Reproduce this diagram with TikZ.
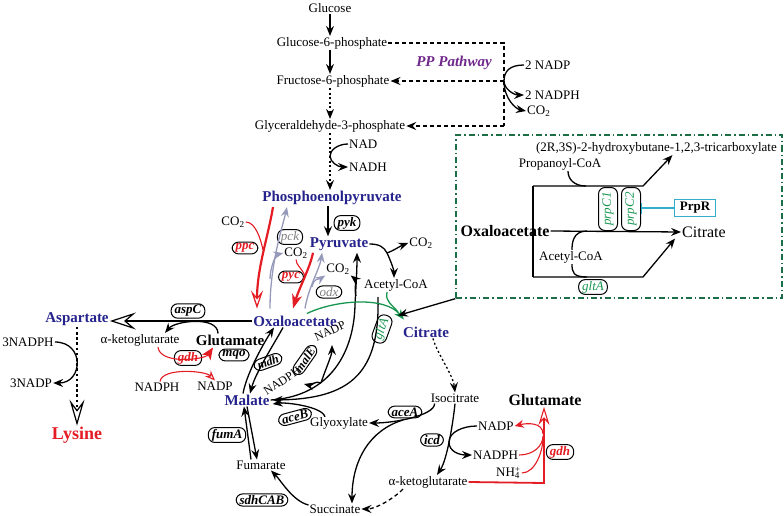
\documentclass[tikz,border=0pt]{standalone}
\usepackage{fontspec}
\setmainfont{Liberation Serif}
\usepackage{tikz}
\usetikzlibrary{arrows.meta,calc}
\usetikzlibrary{positioning,shapes}
\definecolor{metblue}{RGB}{38,36,140}
\definecolor{genred}{RGB}{228,28,36}
\definecolor{revgray}{RGB}{150,154,186}
\definecolor{prpgreen}{RGB}{24,150,80}
\definecolor{boxgreen}{RGB}{28,110,70}
\definecolor{ppviolet}{RGB}{112,40,140}
\definecolor{regcyan}{RGB}{50,175,205}
\tikzstyle{met}=[inner sep=1pt, font=\fontsize{13}{15}\selectfont]
\tikzstyle{keymet}=[inner sep=1pt, text=metblue, font=\fontsize{15}{17}\selectfont\bfseries]
\tikzstyle{enz}=[draw, line width=1pt, rounded corners=6.5pt, inner xsep=3.5pt,
		inner ysep=1.5pt, font=\fontsize{13}{15}\selectfont\bfseries\itshape]
\tikzstyle{enzlight}=[enz, font=\fontsize{13}{15}\selectfont\itshape]
\tikzstyle{plain}=[line width=1.3pt]
\tikzstyle{flux}=[line width=1.3pt, -{Stealth[length=10pt,width=8pt,inset=3.5pt]}]
\tikzstyle{dashline}=[line width=1.3pt, dash pattern=on 4pt off 3pt]
\tikzstyle{dotline}=[line width=1.3pt, dash pattern=on 2pt off 2.5pt]
\tikzstyle{redflux}=[genred, line width=2.2pt]
\tikzstyle{redthin}=[genred, line width=1.1pt]
\tikzstyle{grayflux}=[revgray, line width=1.3pt, -{Stealth[length=10pt,width=8pt,inset=3.5pt]}]
\tikzstyle{greenflux}=[prpgreen, line width=1.3pt]

\begin{document}
\begin{tikzpicture}[x=1pt,y=-1pt]
    \useasboundingbox (0,0) rectangle (784,516);

    % glycolysis
    \node (glc) at (330,8) [met] {Glucose};
    \node (g6p) at (332,43) [met] {Glucose-6-phosphate};
    \node (f6p) at (333,81) [met] {Fructose-6-phosphate};
    \node (g3p) at (330,126) [met] {Glyceraldehyde-3-phosphate};
    \node (nad) at (348,144) [met, anchor=west] {NAD};
    \node (nadh) at (348,167) [met, anchor=west] {NADH};
    \node (pep) at (332,198) [keymet] {Phosphoenolpyruvate};
    \node (pyk) at (347,223) [enz] {pyk};
    \node (pyr) at (339,244) [keymet] {Pyruvate};
    \node (co2pdh) at (421,243) [met] {CO\textsubscript{2}};
    \node (accoa) at (396,285) [met] {Acetyl-CoA};

    \draw[flux] (glc) -- (glc |- g6p.north);
    \draw[flux] (g6p.south -| glc) -- (glc |- f6p.north);
    \draw[dotline, flux] (f6p.south -| glc) -- (glc |- g3p.north);
    \coordinate (nadj) at (330,156);
    \draw[dotline] (g3p.south -| glc) -- (nadj);
    \draw[dotline, flux] (nadj) -- (glc |- pep.north);
    \draw[plain] (nad.west) .. controls +(-10,0) and +(0,-6) .. (nadj);
    \draw[flux] (nadj) .. controls +(0,6) and +(-10,0) .. (nadh.west);
    \draw[flux] ($(pep.south)+(-4,0)$) -- ($(pyr.north)+(-11,0)$);

    % PP pathway
    \node (pp) at (454,63) [font=\fontsize{15}{17}\selectfont\bfseries\itshape,
            text=ppviolet] {PP Pathway};
    \coordinate (ppt) at (504,43);
    \coordinate (ppm) at (504,81);
    \coordinate (ppb) at (504,126);
    \draw[dashline] (g6p.east) -- (ppt) -- (ppb);
    \draw[dashline, flux] (ppm) -- (f6p.east);
    \draw[dashline, flux] (ppb) -- (g3p.east);
    \node (nadp2) at (524,65) [met, anchor=west] {2 NADP};
    \node (nadph2) at (524,95) [met, anchor=west] {2 NADPH};
    \node (co2pp) at (526,111) [met, anchor=west] {CO\textsubscript{2}};
    \draw[plain] (nadp2.west) .. controls +(-14,0) and +(0,-10) .. (ppm);
    \draw[flux] (ppm) .. controls +(0,8) and +(-10,0) .. (nadph2.west);
    \draw[flux] (ppm) .. controls +(0,18) and +(-10,-2) .. (co2pp.west);

    \coordinate (pdhj) at (387,253);
    \draw[plain] (pyr.east) .. controls +(10,0) and +(-3,-6) .. (pdhj);
    \draw[flux] (pdhj) .. controls +(6,-2) and +(-8,3) .. (co2pdh.west);
    \draw[flux] (pdhj) .. controls +(3,6) and +(0,-8) .. ($(accoa.north)+(-2,0)$);

    % anaplerotic node
    \node (oaa) at (295,321) [keymet] {Oxaloacetate};
    \node (mal) at (247,400) [keymet] {Malate};
    \node (asp) at (77,319) [keymet] {Aspartate};
    \node (lys) at (77,435) [keymet, text=genred,
            font=\fontsize{18}{20}\selectfont\bfseries] {Lysine};
    \node (cit) at (426,332) [keymet] {Citrate};
    \node (co2ppc) at (233,222) [met] {CO\textsubscript{2}};
    \node (co2pyc) at (296,253) [met] {CO\textsubscript{2}};
    \node (co2odx) at (338,269) [met] {CO\textsubscript{2}};
    \node (ppc) at (245,248) [enz, text=genred] {ppc};
    \node (pck) at (290,237) [enzlight, text=gray] {pck};
    \node (pyc) at (291,277) [enz, text=genred] {pyc};
    \node (odx) at (329,292) [enzlight, text=gray] {odx};

    \draw[redflux, -{Stealth[open, length=18pt, width=12pt, inset=7pt, line width=1.2pt]}]
        ($(pep.south)+(-59,1)$) .. controls +(-5,30) and +(0,-40) .. ($(oaa.north)+(-38,-6)$);
    \draw[redthin] (co2ppc.east) .. controls +(10,0) and +(-2,-10) .. (263,250);
    \draw[grayflux] ($(oaa.north)+(-25,-6)$) .. controls +(0,-45) and +(-4,18) .. ($(pep.south)+(-45,1)$);
    \draw[grayflux] (270,279) .. controls +(0,-10) and +(-8,2) .. (co2pyc.west);
    \draw[redflux, -{Stealth[length=14pt, width=10pt, inset=4pt]}]
        ($(pyr.south)+(-26,1)$) .. controls +(-3,15) and +(6,-20) .. ($(oaa.north)+(-2,-6)$);
    \draw[redthin] (co2pyc.south) .. controls +(0,6) and +(-3,-8) .. (305,276);
    \draw[grayflux] ($(oaa.north)+(10,-6)$) .. controls +(3,-20) and +(-2,15) .. ($(pyr.south)+(-17,1)$);
    \draw[grayflux] (312,287) .. controls +(2,-10) and +(-6,4) .. (co2odx.south west);

    % malate
    \draw[flux] (mal.east) .. controls (332,396) and (354,350) .. (355,305)
        .. controls (356,285) and (357,270) .. ($(pyr.south)+(18,1)$);
    \draw[flux] (356,296) .. controls +(-2,-8) and +(6,5) .. (co2odx.south east);
    \coordinate (tcaj) at (378,297);
    \draw[flux] (tcaj) .. controls (380,372) and (352,399) .. ($(mal.east)+(2,0)$);
    \draw[flux] ($(mal.north)+(-4,0)$) .. controls +(4,-22) and +(-8,12) .. ($(oaa.south)+(-21,0)$);
    \draw[flux] ($(oaa.south)+(-12,0)$) .. controls +(-8,15) and +(6,-22) .. ($(mal.north)+(3,0)$);
    \node (mqo) at (234,355) [enz] {mqo};
    \node (mdh) at (268,362) [enz, rotate=20, font=\fontsize{12}{14}\selectfont\bfseries\itshape] {mdh};
    \node (malE) at (305,360) [enz, rotate=55, font=\fontsize{12}{14}\selectfont\bfseries\itshape] {malE};
    \node (nadph3) at (282,381) [met, rotate=33, font=\fontsize{12}{14}\selectfont] {NADPH};
    \node (nadp3) at (330,331) [met, rotate=25, font=\fontsize{12}{14}\selectfont] {NADP};
    \coordinate (malej) at (321,383);
    \draw[flux] (malej) .. controls +(3,-10) and +(0,10) .. (332,345);
    \draw[flux] (malej) .. controls +(-6,-3) and +(8,2) .. (304,384);

    % aspartate and lysine
    \node (aspC) at (188,311) [enz] {aspC};
    \draw[line width=2.4pt, -{Stealth[open, length=26pt, width=17pt, inset=10pt, line width=1.2pt]}]
        (oaa.west) -- (oaa.west -| asp.east);
    \node (akg1) at (140,340) [met] {α-ketoglutarate};
    \node (glu1) at (230,340) [keymet, text=black] {Glutamate};
    \draw[flux] ($(glu1.north)+(-12,0)$) .. controls +(0,-18) and +(10,-12) .. ($(akg1.north)+(25,0)$);
    \node (gdh1) at (188,358) [enz, text=genred] {gdh};
    \node (nadph1) at (157,387) [met] {NADPH};
    \node (nadp1) at (215,386) [met] {NADP};
    \draw[redthin, -{Stealth[length=12pt, width=10pt, inset=3pt]}]
        ($(akg1.south)+(18,0)$) .. controls +(2,18) and +(-8,12) .. ($(glu1.south)+(-17,1)$);
    \draw[redthin, -{Stealth[open, length=10pt, width=8pt, inset=3pt]}]
        ($(nadph1.north)+(3,0)$) .. controls +(2,-14) and +(-10,-10) .. (nadp1.north);
    \node (nadph4) at (28,342) [met] {3NADPH};
    \node (nadp4) at (31,383) [met] {3NADP};
    \draw[flux] (nadph4.east) .. controls +(30,0) and +(30,0) .. (nadp4.east);
    \draw[line width=2.2pt, dash pattern=on 2.6pt off 2.6pt,
        -{Stealth[open, length=26pt, width=15pt, inset=10pt, line width=1.2pt]}] (asp.south) -- (lys.north);

    % citrate synthase
    \node (gltA) at (382,329) [enzlight, text=prpgreen, rotate=70] {gltA};
    \draw[greenflux, -{Stealth[length=10pt, width=8pt, inset=3pt]}]
        ($(oaa.north east)+(-31,-1)$) .. controls (335,300) and (385,296) .. ($(cit.north west)+(2,-6)$);
    \draw[greenflux] ($(accoa.south)+(-9,0)$) .. controls +(-2,10) and +(-6,-8) .. (398,312);

    \node (prpbox) at (619,216.5) [draw=boxgreen, line width=1.3pt,
            dash pattern=on 6pt off 3pt on 1.5pt off 3pt,
            minimum width=326pt, minimum height=163pt, inner sep=0pt] {};
    \draw[flux] (prpbox.south west) -- ($(cit.north west)+(-4,-10)$);

    % TCA cycle and glyoxylate shunt
    \node (icit) at (455,398) [met] {Isocitrate};
    \draw[dotline, flux] ($(cit.south)+(7,0)$) .. controls +(4,15) and +(-2,-18) .. (icit.north);
    \node (glx) at (339,423) [met] {Glyoxylate};
    \node (aceA) at (405,412) [enz] {aceA};
    \node (aceB) at (295,417) [enz, rotate=15] {aceB};
    \node (suc) at (335,509) [met] {Succinate};
    \node (fum) at (261,465) [met] {Fumarate};
    \node (sdh) at (262,500) [enz] {sdhCAB};
    \node (fumA) at (227,435) [enz] {fumA};
    \draw[flux] ($(icit.south west)+(5,0)$) .. controls +(0,12) and +(25,0) .. (glx.east);
    \coordinate (aceAj) at (403,420);
    \draw[flux] (aceAj) .. controls (370,430) and (352,460) .. ($(suc.north)+(17,0)$);
    \draw[flux] ($(glx.north west)+(16,1)$) .. controls +(-2,-10) and +(14,-2) .. ($(mal.east)+(2,4)$);

    \node (icd) at (432,440) [enz] {icd};
    \node (akg2) at (428,482) [met] {α-ketoglutarate};
    \draw[flux] (icit.south) .. controls +(-2,20) and +(10,-15) .. ($(akg2.north)+(9,0)$);
    \coordinate (icdj) at (449,442);
    \node (nadp5) at (477,426) [met, anchor=west] {NADP};
    \node (nadph5) at (472,455) [met, anchor=west] {NADPH};
    \node (nh4) at (495,473) [met, anchor=west] {NH\rlap{\textsubscript{4}}\textsuperscript{+}};
    \draw[plain] (nadp5.west) .. controls +(-14,0) and +(0,-10) .. (icdj);
    \draw[flux] (icdj) .. controls +(0,10) and +(-12,0) .. (nadph5.west);

    \draw[dashline, flux] ($(akg2.south)+(-25,0)$) .. controls +(-10,10) and +(14,0) .. (suc.east);
    \draw[flux] ($(suc.west)+(0,-4)$) .. controls +(-16,-4) and +(10,10) .. ($(fum.south)+(10,0)$);
    \draw[flux] ($(fum.north)+(-10,0)$) -- ($(mal.south)+(-3,0)$);
    \draw[flux] (mal.south) -- ($(fum.north)+(-4,0)$);

    % glutamate dehydrogenase
    \node (glu2) at (545,400) [keymet, text=black,
            font=\fontsize{16}{18}\selectfont\bfseries] {Glutamate};
    \node (gdh2) at (560,452) [enz, text=genred] {gdh};
    \coordinate (gdhc) at (544,483);
    \draw[genred, line width=1.8pt, -{Stealth[open, length=18pt, width=11pt, inset=6pt, line width=1.1pt]}]
        (akg2.east) -- (gdhc) -- (gdhc |- glu2.south);
    \draw[redthin] (nadph5.east) .. controls +(14,0) and +(0,10) .. (543,436);
    \draw[redthin] (nh4.east) .. controls +(14,0) and +(0,12) .. (543,438);
    \draw[redthin, -{Stealth[length=9pt, width=8pt, inset=3pt]}]
        (543,434) .. controls +(0,-12) and +(12,-3) .. (nadp5.east);

    % propionate box
    \node (hbt) at (778,148) [met, anchor=east] {(2R,3S)-2-hydroxybutane-1,2,3-tricarboxylate};
    \node (procoa) at (560,164) [met] {Propanoyl-CoA};
    \node (oaa2) at (505,231) [keymet, text=black,
            font=\fontsize{16}{18}\selectfont\bfseries] {Oxaloacetate};
    \node (cit2) at (704,232) [met, font=\fontsize{16}{18}\selectfont] {Citrate};
    \node (accoa2) at (571,257) [met] {Acetyl-CoA};
    \coordinate (prptop) at (533,186);
    \coordinate (prpbot) at (533,277);
    \draw[plain] (prptop) -- (prpbot);
    \draw[flux] (prptop) -- (643,186) -- ($(hbt.south)+(16,0)$);
    \draw[flux] (oaa2.east) -- (cit2.west);
    \draw[flux] (prpbot) -- (643,277) -- ($(cit2.south west)+(-6,0)$);
    \draw[plain] ($(procoa.south)+(8,0)$) .. controls +(0,8) and +(-12,0) .. (586,186);
    \draw[plain] (587,231) .. controls +(-14,0) and +(0,-7) .. ($(accoa2.north)+(1,0)$);
    \draw[plain] ($(accoa2.south)+(1,0)$) .. controls +(0,8) and +(-14,0) .. (587,277);
    \node (prpC1) at (608,209) [enzlight, text=prpgreen, rotate=90,
            minimum width=43pt, minimum height=19pt] {prpC1};
    \node (prpC2) at (631,209) [enzlight, text=prpgreen, rotate=90,
            minimum width=43pt, minimum height=19pt] {prpC2};
    \node (prpR) at (695,208) [draw=regcyan, line width=1.3pt, inner xsep=5pt, inner ysep=3pt,
            font=\fontsize{13}{15}\selectfont\bfseries] {PrpR};
    \draw[regcyan, line width=1.3pt, -{Bar[width=11pt, line width=1.3pt]}]
        (prpR.west) -- (prpR.west -| prpC2.south);
    \node (gltA2) at (593,287) [enzlight, text=prpgreen] {gltA};

\end{tikzpicture}
\end{document}
